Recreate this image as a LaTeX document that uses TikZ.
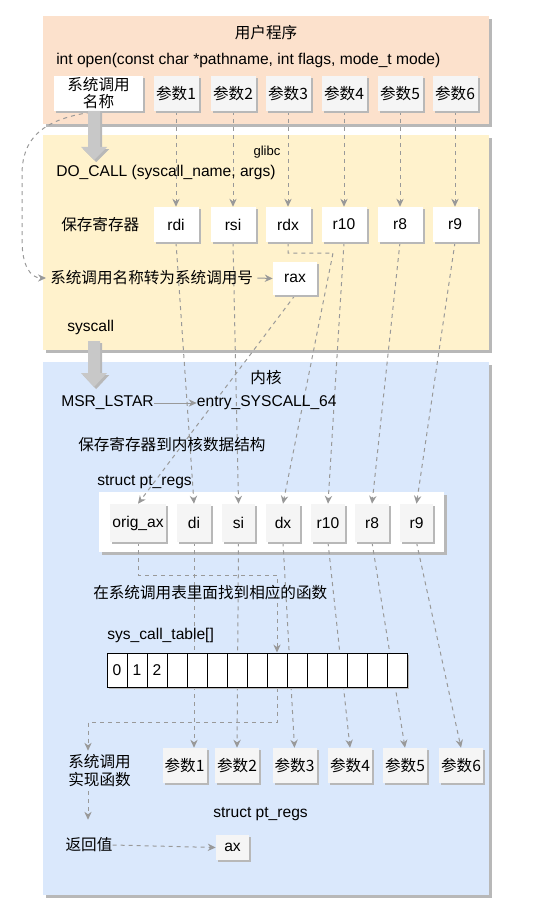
\documentclass[tikz,border=0pt]{standalone}
\usepackage{fontspec}
\setmainfont{Liberation Sans}
\newfontfamily\cjk{Noto Sans CJK SC}
\usepackage{tikz}
\usetikzlibrary{arrows.meta}
\usetikzlibrary{shadows}
\usetikzlibrary{positioning}

\definecolor{userbg}{HTML}{FCE1CC}
\definecolor{glibcbg}{HTML}{FFF2CC}
\definecolor{kernelbg}{HTML}{DAE8FC}
\definecolor{boxgray}{HTML}{F5F5F5}
\definecolor{linegray}{HTML}{999999}
\definecolor{shadowgray}{HTML}{B8B8B8}
\definecolor{arrowgray}{HTML}{C8C8C8}

\pgfdeclarelayer{bg}
\pgfdeclarelayer{lines}
\pgfsetlayers{bg,lines,main}

\tikzset{
  txt/.style={inner sep=0pt, font=\fontsize{11.7}{14}\selectfont},
  cjktxt/.style={inner sep=0pt, font=\cjk\fontsize{11.7}{13.5}\selectfont},
  smalltxt/.style={inner sep=0pt, font=\fontsize{9.8}{12}\selectfont},
  shade/.style={drop shadow={shadow xshift=1.6pt, shadow yshift=-1.6pt, fill=shadowgray, opacity=1}},
  panel/.style={drop shadow={shadow xshift=2.4pt, shadow yshift=-2.4pt, fill=shadowgray, opacity=1}},
  sbox/.style={fill=#1, shade, minimum width=33.75pt, minimum height=26.25pt},
  kbox/.style={fill=boxgray, shade, minimum width=25pt, minimum height=28.5pt},
  cell/.style={draw=black, line width=0.75pt, fill=white, shade, minimum width=15pt, minimum height=25.5pt, inner sep=0pt},
  link/.style={draw=linegray, line width=0.75pt, dash pattern=on 3pt off 3pt, -{Stealth[length=6pt, width=5.5pt]}},
  solidlink/.style={draw=linegray, line width=0.75pt, -{Stealth[length=6pt, width=5.5pt]}},
  bigarrow/.style={fill=arrowgray, shade}
}

\begin{document}
\begin{tikzpicture}[x=0.75pt,y=-0.75pt]
  \useasboundingbox (0,0) rectangle (557,909);

  % draw the three panels
  \begin{pgfonlayer}{bg}
    \fill[panel, fill=userbg] (43,16) rectangle (489,124);
    \fill[panel, fill=glibcbg] (43,135) rectangle (489,350);
    \fill[panel, fill=kernelbg] (43,362) rectangle (489,895);
    \fill[panel, fill=white] (99,492) rectangle (444,552);
  \end{pgfonlayer}

  % user program
  \node[cjktxt] (user) at (266,33) {用户程序};
  \node[txt, anchor=west] (proto) at (56,60) {int open(const char *pathname, int flags, mode\_t mode)};
  \node[sbox=white, cjktxt, align=center, minimum width=66.75pt, font=\cjk\fontsize{11.7}{12.75}\selectfont] (name) at (98.5,93.5) {系统调用\\名称};
  \foreach \i/\x in {1/176,2/233,3/288,4/344,5/400,6/455}
    \node[sbox=boxgray, cjktxt] (up\i) at (\x,93.5) {参数\i};

  % glibc
  \node[smalltxt] (glibc) at (267,152) {glibc};
  \node[txt, anchor=west] (docall) at (56,172) {DO\_CALL (syscall\_name, args)};
  \node[cjktxt, anchor=west] (save) at (61,225) {保存寄存器};
  \foreach \i/\x/\r in {1/176/rdi,2/233/rsi,3/288/rdx,4/344/r10,5/400/r8,6/455/r9}
    \node[sbox=white, txt] (reg\i) at (\x,224.5) {\r};
  \node[cjktxt, anchor=west, inner xsep=3pt] (convert) at (46,278) {系统调用名称转为系统调用号};
  \node[sbox=white, txt, minimum width=33pt, minimum height=24.75pt] (rax) at (295,278.5) {rax};
  \node[txt, anchor=west] (syscall) at (67,327) {syscall};

  % kernel
  \node[cjktxt] (kernel) at (266,378) {内核};
  \node[txt, anchor=west] (msr) at (61,403) {MSR\_LSTAR};
  \node[txt, right=32pt of msr] (entry) {entry\_SYSCALL\_64};
  \node[cjktxt, anchor=west] (tosave) at (78,445) {保存寄存器到内核数据结构};
  \node[txt, anchor=west] (ptregs) at (97,482) {struct pt\_regs};
  \node[kbox, txt, minimum width=42pt] (kax) at (138,523) {orig\_ax};
  \foreach \n/\x/\r in {kdi/194/di,ksi/238.5/si,kdx/283/dx,kr10/328/r10,kr8/372/r8,kr9/416.5/r9}
    \node[kbox, txt] (\n) at (\x,523) {\r};

  \node[cjktxt, anchor=west] (find) at (93,593) {在系统调用表里面找到相应的函数};
  \node[txt, anchor=west] (tablename) at (107,635) {sys\_call\_table[]};
  \foreach \i in {0,...,14}
    \node[cell, txt] (cell\i) at ({117+20*\i},670) {\ifnum\i<3 \i\fi};

  \node[cjktxt, align=center, minimum height=30pt] (impl) at (99.5,771) {系统调用\\实现函数};
  \foreach \i/\x in {1/184.5,2/237,3/294.5,4/350,5/405,6/461}
    \node[sbox=boxgray, cjktxt, minimum width=33pt] (fp\i) at (\x,765.5) {参数\i};
  \node[cjktxt, minimum height=37.5pt] (ret) at (89,845) {返回值};
  \node[txt, anchor=west] (ptregs2) at (213,814) {struct pt\_regs};
  \node[sbox=boxgray, txt, minimum width=24.75pt, minimum height=18.75pt] (ax) at (232.5,847.5) {ax};

  % big gray arrows
  \fill[bigarrow] (88,111) -- (100,111) -- (100,147) -- (107,147) -- (94,160) -- (81,147) -- (88,147) -- cycle;
  \fill[bigarrow] (88,341) -- (100,341) -- (100,373) -- (107,373) -- (94,387) -- (81,373) -- (88,373) -- cycle;

  % connectors
  \begin{pgfonlayer}{lines}
    \foreach \i in {1,...,6}
      \draw[link] (up\i.south) -- (reg\i.north);
    \draw[link] (name.south) .. controls (40,118) and (22,140) .. (22,175) -- (22,240) .. controls (22,265) and (30,278) .. (convert.west);
    \draw[solidlink] (convert.east) -- (rax.west);
    \draw[solidlink] (msr.east) -- (entry.west);

    \draw[link] (rax.south) -- (kax.north);
    \foreach \a/\b in {reg1/kdi,reg2/ksi,reg4/kr10,reg5/kr8,reg6/kr9}
      \draw[link] (\a.south) -- (\b.north);
    \coordinate (rdxbend) at (333,253);
    \draw[link] (reg3.south) |- (rdxbend) -- (kdx.north);

    \draw[link] (kax.south) -- ++(0,33) -| (cell8.north);
    \draw[link] (kdi.south) -- (kdi.south |- fp1.north);
    \foreach \a/\b in {ksi/fp2,kdx/fp3,kr10/fp4,kr8/fp5,kr9/fp6}
      \draw[link] (\a.south) -- (\b.north);

    \coordinate (turn) at (88,722);
    \draw[link] (cell8.south) |- (turn) -- (turn |- impl.north);
    \draw[link] (turn |- impl.south) -- (turn |- ret.north);
    \draw[link] (ret.east) -- (ax.west);
  \end{pgfonlayer}
\end{tikzpicture}
\end{document}
